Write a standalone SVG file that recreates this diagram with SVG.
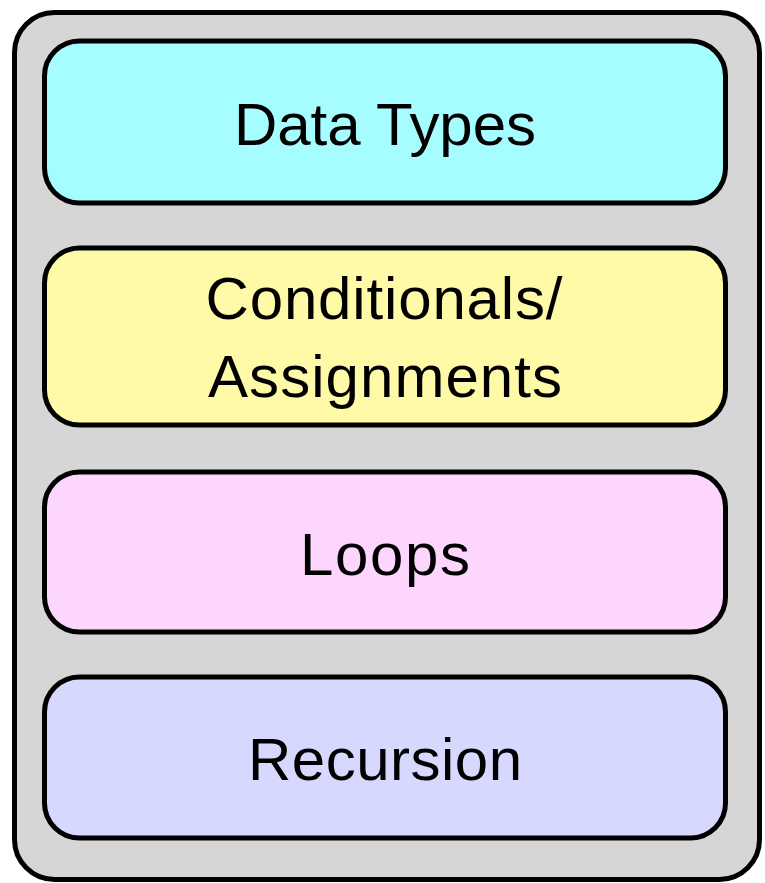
<svg xmlns="http://www.w3.org/2000/svg" width="765" height="883" viewBox="0 0 765 883">
  <style>
    .frame { fill: #d6d6d6; stroke: #000; stroke-width: 5; }
    .box { stroke: #000; stroke-width: 5; }
    .label { font-family: "Liberation Sans", Arial, Helvetica, sans-serif; font-size: 60px; fill: #000; text-anchor: middle; }
  </style>
  <!-- outer container -->
  <rect id="container" class="frame" x="14.5" y="12.5" width="745" height="867" rx="40" ry="40"/>
  <g id="data-types">
    <rect class="box" x="44.5" y="41" width="681" height="162" rx="35" ry="35" fill="#a6fdff"/>
    <text class="label" x="385" y="145" textLength="302">Data Types</text>
  </g>
  <g id="conditionals">
    <rect class="box" x="44.5" y="248" width="681" height="177" rx="35" ry="35" fill="#fffaa8"/>
    <text class="label" x="384" y="319" textLength="357">Conditionals/</text>
    <text class="label" x="385" y="397" textLength="354">Assignments</text>
  </g>
  <g id="loops">
    <rect class="box" x="44.5" y="472" width="681" height="160" rx="35" ry="35" fill="#fcd6fc"/>
    <text class="label" x="385" y="575" textLength="170">Loops</text>
  </g>
  <g id="recursion">
    <rect class="box" x="44.5" y="677" width="681" height="161" rx="35" ry="35" fill="#d7d8fe"/>
    <text class="label" x="385" y="780" textLength="274">Recursion</text>
  </g>
  <g id="connectors"/>
</svg>
